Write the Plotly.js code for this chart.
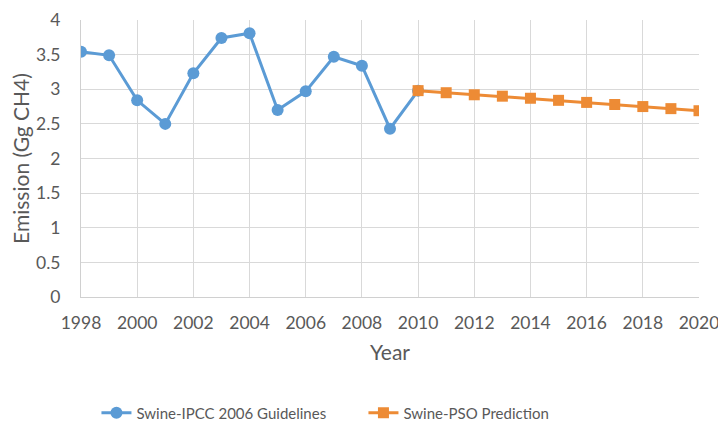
<!DOCTYPE html>
<html><head><meta charset="utf-8">
<script src="https://cdn.plot.ly/plotly-3.0.1.min.js"></script>
<style>html,body{margin:0;padding:0;background:#fff}#chart{width:718px;height:425px}</style>
</head><body><div id="chart"></div>
<script>
const yearsIPCC = [1998,1999,2000,2001,2002,2003,2004,2005,2006,2007,2008,2009,2010];
const valuesIPCC = [3.54,3.49,2.84,2.50,3.23,3.74,3.81,2.70,2.97,3.47,3.34,2.43,2.98];
const yearsPSO = [2010,2011,2012,2013,2014,2015,2016,2017,2018,2019,2020];
const valuesPSO = [2.98,2.95,2.92,2.90,2.87,2.84,2.81,2.78,2.75,2.72,2.69];
const xTicks = [1998,2000,2002,2004,2006,2008,2010,2012,2014,2016,2018,2020];
const yTicks = [0,0.5,1,1.5,2,2.5,3,3.5,4];

const font = "Lato, 'Open Sans', sans-serif";
const traces = [
  {x: yearsIPCC, y: valuesIPCC, name: 'Swine-IPCC 2006 Guidelines', mode: 'lines+markers',
   line: {color: '#5b9bd5', width: 3}, marker: {symbol: 'circle', size: 12, color: '#5b9bd5'}},
  {x: yearsPSO, y: valuesPSO, name: 'Swine-PSO Prediction', mode: 'lines+markers',
   line: {color: '#ed8b35', width: 3}, marker: {symbol: 'square', size: 11, color: '#ed8b35'}}
];
const layout = {
  width: 718, height: 425,
  margin: {l: 81, r: 19, t: 20, b: 128},
  paper_bgcolor: '#fff', plot_bgcolor: '#fff',
  font: {family: font, color: '#595959', size: 18},
  xaxis: {range: [1998, 2020], tickvals: xTicks, ticktext: xTicks.map(String),
    showgrid: true, gridcolor: '#d9d9d9', gridwidth: 1, zeroline: false, automargin: false,
    showline: true, linecolor: '#d0d0d0', linewidth: 1, ticks: '', ticklabelstandoff: 10,
    ticklabeloverflow: 'allow',
    tickfont: {size: 17.5, color: '#595959'},
    title: {text: 'Year', font: {size: 21, color: '#595959'}, standoff: 13}},
  yaxis: {range: [0, 4], tickvals: yTicks, ticktext: yTicks.map(String),
    showgrid: true, gridcolor: '#d9d9d9', gridwidth: 1, zeroline: false, automargin: false,
    showline: true, linecolor: '#d0d0d0', linewidth: 1, ticks: '', ticklabelstandoff: 16,
    tickfont: {size: 17.5, color: '#595959'},
    title: {text: 'Emission (Gg CH4)', font: {size: 21, color: '#595959'}, standoff: 0}},
  showlegend: true,
  legend: {orientation: 'h', x: 0.025, xanchor: 'left', yref: 'container', y: 0.028, yanchor: 'middle',
    font: {size: 15, color: '#595959'}, tracegroupgap: 0, entrywidth: 222, entrywidthmode: 'pixels'},
};
Plotly.newPlot('chart', traces, layout, {displayModeBar: false, staticPlot: true});
</script></body></html>
